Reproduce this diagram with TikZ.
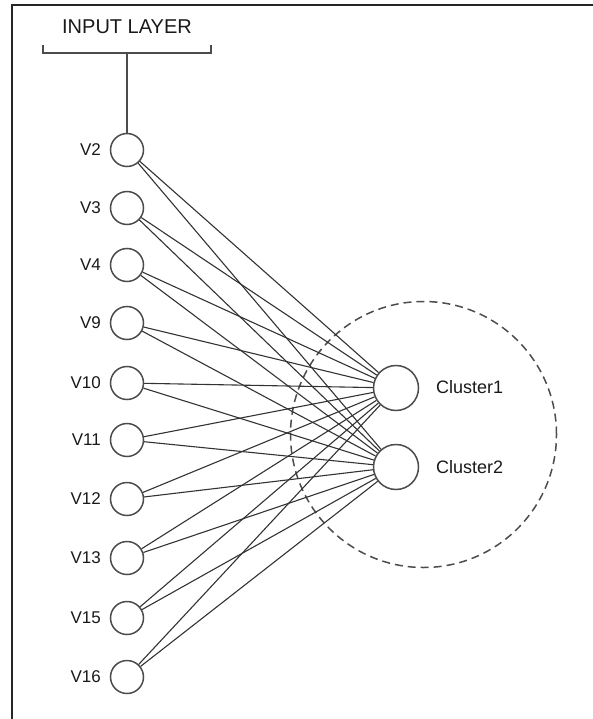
\documentclass[tikz,border=0pt]{standalone}
\usepackage{fontspec}
\setmainfont{Liberation Sans}
\begin{document}
\begin{tikzpicture}[x=1pt,y=-1pt,
  inp/.style={circle,draw=black!70,line width=1.5pt,minimum size=33pt,inner sep=0pt},
  clu/.style={circle,draw=black!70,line width=1.5pt,minimum size=45pt,inner sep=0pt},
  lbl/.style={anchor=east,font=\fontsize{17}{17}\selectfont,text=black!90,inner sep=0pt},
  clbl/.style={anchor=west,font=\fontsize{18}{18}\selectfont,text=black!90,inner sep=0pt},
  edge/.style={draw=black!80,line width=1.1pt},
  frame/.style={draw=black!85,line width=1.8pt}]
\useasboundingbox (0,0) rectangle (593,719);
% frame
\coordinate (ftr) at (593,5);
\coordinate (ftl) at (12,5);
\coordinate (fbl) at (12,719);
\draw[frame] (ftr) -- (ftl) -- (fbl);
% title and bracket
\node[font=\fontsize{20}{20}\selectfont,text=black!90,inner sep=0pt] (title) at (127,27) {INPUT LAYER};
\coordinate (bl) at (43,45);
\coordinate (blb) at (43,53);
\coordinate (brb) at (211,53);
\coordinate (br) at (211,45);
\coordinate (bm) at (127,53);
\draw[draw=black!70,line width=1.5pt] (bl) -- (blb) -- (brb) -- (br);
% dashed cluster circle
\node[circle,draw=black!70,line width=1.5pt,dash pattern=on 8pt off 5pt,minimum size=266pt,inner sep=0pt] (group) at (423.5,434.5) {};
% input nodes
\foreach \n/\y in {2/150,3/208,4/265,9/323,10/383,11/440,12/499,13/558,15/618,16/677}{
  \node[inp] (v\n) at (127,\y) {};
  \node[lbl] (lv\n) at (101,\y) {V\n};
}
% cluster nodes
\node[clu] (c1) at (396,388) {};
\node[clu] (c2) at (396,467) {};
\node[clbl] (lc1) at (436,387) {Cluster1};
\node[clbl] (lc2) at (436,467) {Cluster2};
% connectors
\draw[draw=black!70,line width=1.5pt] (bm) -- (v2);
\foreach \n in {2,3,4,9,10,11,12,13,15,16}{
  \draw[edge] (v\n) -- (c1);
  \draw[edge] (v\n) -- (c2);
}
\end{tikzpicture}
\end{document}
